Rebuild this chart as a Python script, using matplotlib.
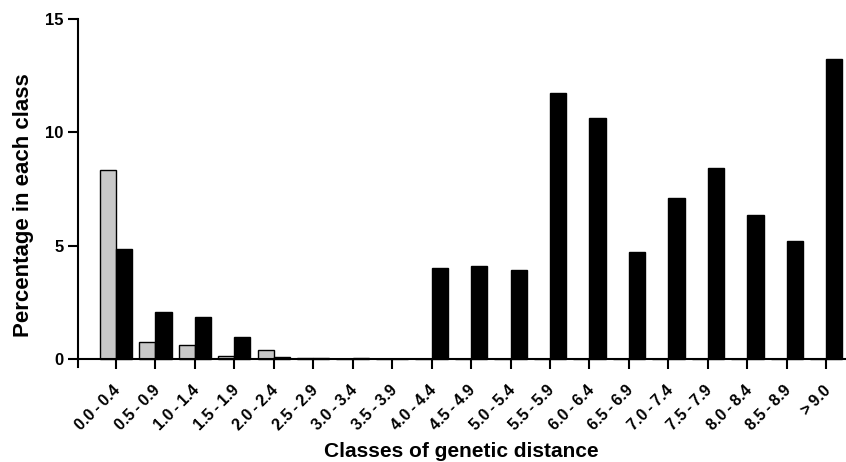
import matplotlib.pyplot as plt
import matplotlib.transforms as mtransforms
import numpy as np

plt.rcParams['font.family'] = ['Liberation Sans', 'DejaVu Sans']
plt.rcParams['font.weight'] = 'bold'

classes = ['0.0 - 0.4', '0.5 - 0.9', '1.0 - 1.4', '1.5 - 1.9', '2.0 - 2.4',
           '2.5 - 2.9', '3.0 - 3.4', '3.5 - 3.9', '4.0 - 4.4', '4.5 - 4.9',
           '5.0 - 5.4', '5.5 - 5.9', '6.0 - 6.4', '6.5 - 6.9', '7.0 - 7.4',
           '7.5 - 7.9', '8.0 - 8.4', '8.5 - 8.9', '> 9.0']
grey_vals = [8.35, 0.75, 0.6, 0.15, 0.38, 0.03, 0, 0, 0, 0,
             0, 0, 0, 0, 0, 0, 0, 0, 0]
black_vals = [4.85, 2.09, 1.85, 0.97, 0.1, 0.05, 0.05, 0, 4.01, 4.1,
              3.93, 11.73, 10.63, 4.72, 7.1, 8.43, 6.35, 5.2, 13.23]
yticks = [0, 5, 10, 15]

fig = plt.figure(figsize=(8.46, 4.62), dpi=100)
ax = fig.add_axes([78 / 846, 1 - 367 / 462, 1 - 78 / 846, (367 - 19) / 462])

x = np.arange(len(classes))
w = 0.41
ax.bar(x - w / 2, grey_vals, w, color='#c8c8c8', edgecolor='black', linewidth=1.0)
ax.bar(x + w / 2, black_vals, w, color='black', edgecolor='black', linewidth=1.0)

ax.set_xlim(-0.96, 18.5)
ax.set_ylim(-15 * 8 / 340, 15)
ax.spines['bottom'].set_position(('data', 0))
ax.spines['top'].set_visible(False)
ax.spines['right'].set_visible(False)
for s in ['left', 'bottom']:
    ax.spines[s].set_linewidth(1.5)

ax.set_yticks(yticks)
ax.set_yticklabels([str(v) for v in yticks], fontsize=12, fontweight='bold')
ax.set_xticks(x)
# tight spacing around the dash, as in the original figure
tick_text = [c.replace(' ', '\u2009') for c in classes]
ax.set_xticklabels(tick_text, rotation=45, ha='right', va='top',
                   rotation_mode='anchor', fontsize=11.5, fontweight='bold')
ax.tick_params(axis='both', direction='out', length=7, width=1.5)
ax.tick_params(axis='x', pad=10)
shift = mtransforms.ScaledTranslation(-3 / 100, 0, fig.dpi_scale_trans)
for lab in ax.get_xticklabels():
    lab.set_transform(lab.get_transform() + shift)

fig.text(24 / 846, 1 - 205 / 462, 'Percentage in each class', rotation=90,
         ha='center', va='center', fontsize=16, fontweight='bold')
fig.text(461 / 846, 1 - 457 / 462, 'Classes of genetic distance',
         ha='center', va='baseline', fontsize=15, fontweight='bold')

fig.savefig('out.png', dpi=100)
